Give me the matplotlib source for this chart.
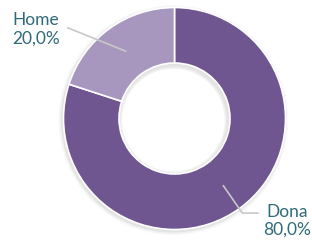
import matplotlib.pyplot as plt
from matplotlib.patches import Wedge
import numpy as np

# dades
categories = ["Dona", "Home"]
percent = [80.0, 20.0]
colors = ["#6F5690", "#A797BE"]

fig = plt.figure(figsize=(3.12, 2.46), dpi=100)
ax = fig.add_axes([0, 0, 1, 1])

R = 111.0  # px per unit
cx, cy = 174.5, 118.5

# ombra suau (anell)
for k, a in enumerate([0.05, 0.035, 0.025]):
    ax.add_patch(Wedge((-0.01, -0.015), 1.0 + 0.012 * (k + 1), 0, 360,
                       width=0.55, color="black", alpha=a, lw=0))

wedges, _ = ax.pie(percent, colors=colors, startangle=90, counterclock=False,
                   radius=1.0, wedgeprops=dict(width=0.5, edgecolor="white", linewidth=1.2),
                   frame=False)
ax.set_xlim(-cx / R, (312 - cx) / R)
ax.set_ylim(-(246 - cy) / R, cy / R)
ax.set_aspect("equal")
ax.axis("off")

txtcol = "#2F6A79"
linecol = "#C8C8C8"
font = "Lato"

for w, cat, p in zip(wedges, categories, percent):
    ang = np.deg2rad((w.theta1 + w.theta2) / 2)
    x0, y0 = 0.75 * np.cos(ang), 0.75 * np.sin(ang)
    lab = cat + "\n" + f"{p:.1f}".replace(".", ",") + "%"
    if np.cos(ang) < 0:
        x1, y1 = x0 - 0.52, y0 + 0.21
        ax.plot([x0, x1], [y0, y1], color=linecol, lw=1.2)
        ax.text(x1 - 0.07, y1 - 0.01, lab, ha="right", va="center", color=txtcol,
                fontsize=12.5, family=font, linespacing=1.2, multialignment="left")
    else:
        x1, y1 = x0 + 0.17, y0 - 0.245
        x2 = x1 + 0.14
        ax.plot([x0, x1, x2], [y0, y1, y1], color=linecol, lw=1.2)
        ax.text(x2 + 0.05, y1 - 0.07, lab, ha="left", va="center", color=txtcol,
                fontsize=12.5, family=font, linespacing=1.2, multialignment="center")

fig.savefig("out.png", dpi=100)
